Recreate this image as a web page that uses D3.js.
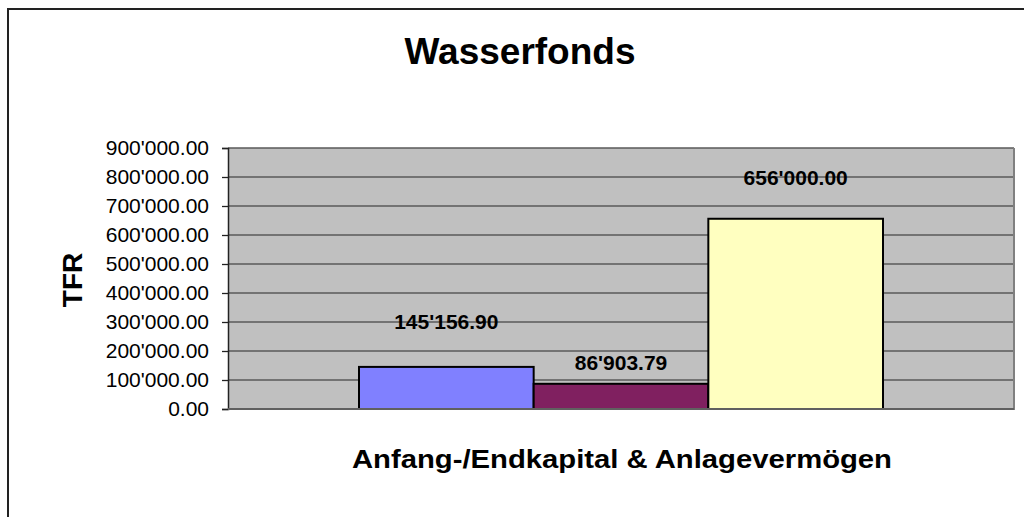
<!DOCTYPE html>
<html>
<head>
<meta charset="utf-8">
<script src="https://cdn.jsdelivr.net/npm/d3@7"></script>
<style>
  html, body { margin: 0; padding: 0; background: #fff; }
  svg { display: block; }
  text { font-family: "Liberation Sans", Arial, sans-serif; fill: #000; }
</style>
</head>
<body>
<svg id="chart" width="1024" height="517"></svg>
<script>
// ---- data ----
const title = "Wasserfonds";
const yTitle = "TFR";
const categories = ["Anfang-/Endkapital & Anlagevermögen"];
const seriesNames = ["Anfangskapital", "Endkapital", "Anlagevermögen"];
const seriesValues = [145156.90, 86903.79, 656000.00];
const valueLabels = ["145'156.90", "86'903.79", "656'000.00"];
const yTicks = [0, 100000, 200000, 300000, 400000, 500000, 600000, 700000, 800000, 900000];
const yTickLabels = ["0.00", "100'000.00", "200'000.00", "300'000.00", "400'000.00",
                     "500'000.00", "600'000.00", "700'000.00", "800'000.00", "900'000.00"];

// ---- styles ----
const seriesColors = ["#8080FF", "#802060", "#FFFFC0"];
const labelLift = [45, 21, 41];

const svg = d3.select("#chart");
const plot = { left: 228, right: 1014, top: 148, bottom: 409 };

// outer chart border
svg.append("path")
  .attr("d", "M8,1000 L8,9 L1030,9")
  .attr("fill", "none").attr("stroke", "#222").attr("stroke-width", 2);

const y = d3.scaleLinear().domain([0, 900000]).range([plot.bottom, plot.top]);
const x0 = d3.scaleBand().domain(categories).range([plot.left, plot.right])
  .paddingInner(0).paddingOuter(0.25);
const x1 = d3.scaleBand().domain(seriesNames).range([0, x0.bandwidth()]).padding(0);

// plot background
svg.append("rect")
  .attr("x", plot.left).attr("y", plot.top)
  .attr("width", plot.right - plot.left).attr("height", plot.bottom - plot.top)
  .attr("fill", "#C0C0C0");

// gridlines
svg.append("g").selectAll("line").data(yTicks.filter(d => d > 0)).join("line")
  .attr("x1", plot.left).attr("x2", plot.right)
  .attr("y1", d => y(d)).attr("y2", d => y(d))
  .attr("stroke", "#5a5a5a").attr("stroke-width", 1.3);

// right & bottom plot border
svg.append("path")
  .attr("d", `M${plot.right},${plot.top} L${plot.right},${plot.bottom} L${plot.left},${plot.bottom}`)
  .attr("fill", "none").attr("stroke", "#808080").attr("stroke-width", 2);

// bars
const g = svg.append("g");
categories.forEach(cat => {
  g.selectAll("rect.bar").data(seriesValues).join("rect")
    .attr("class", "bar")
    .attr("x", (d, i) => x0(cat) + x1(seriesNames[i]))
    .attr("y", d => y(d))
    .attr("width", x1.bandwidth())
    .attr("height", d => y(0) - y(d))
    .attr("fill", (d, i) => seriesColors[i])
    .attr("stroke", "#000").attr("stroke-width", 2);

  g.selectAll("text.val").data(seriesValues).join("text")
    .attr("class", "val")
    .attr("x", (d, i) => x0(cat) + x1(seriesNames[i]) + x1.bandwidth() / 2)
    .attr("y", (d, i) => y(d) - labelLift[i])
    .attr("text-anchor", "middle")
    .attr("dominant-baseline", "central")
    .attr("font-size", 21).attr("font-weight", "bold")
    .text((d, i) => valueLabels[i]);
});

// y axis
const yAxis = d3.axisLeft(y).tickValues(yTicks)
  .tickFormat((d, i) => yTickLabels[i]).tickSize(6).tickPadding(13);
const ya = svg.append("g").attr("transform", `translate(${plot.left},0)`).call(yAxis);
ya.select(".domain").attr("stroke", "#222").attr("stroke-width", 1.5);
ya.selectAll(".tick line").attr("stroke", "#222").attr("stroke-width", 1.3);
ya.selectAll(".tick text").attr("font-size", 21)
  .attr("font-family", "'Liberation Sans', Arial, sans-serif").attr("fill", "#000");

// x axis bottom line
svg.append("line")
  .attr("x1", plot.left).attr("x2", plot.right)
  .attr("y1", plot.bottom).attr("y2", plot.bottom)
  .attr("stroke", "#606060").attr("stroke-width", 2);

// titles
svg.append("text")
  .attr("x", 520).attr("y", 64)
  .attr("text-anchor", "middle").attr("font-size", 37).attr("font-weight", "bold")
  .text(title);

svg.append("text")
  .attr("transform", "translate(82,280) rotate(-90)")
  .attr("text-anchor", "middle").attr("font-size", 28).attr("font-weight", "bold")
  .text(yTitle);

svg.append("text")
  .attr("x", 622).attr("y", 468)
  .attr("text-anchor", "middle").attr("font-size", 26).attr("font-weight", "bold")
  .attr("textLength", 540).attr("lengthAdjust", "spacingAndGlyphs")
  .text(categories[0]);
</script>
</body>
</html>
